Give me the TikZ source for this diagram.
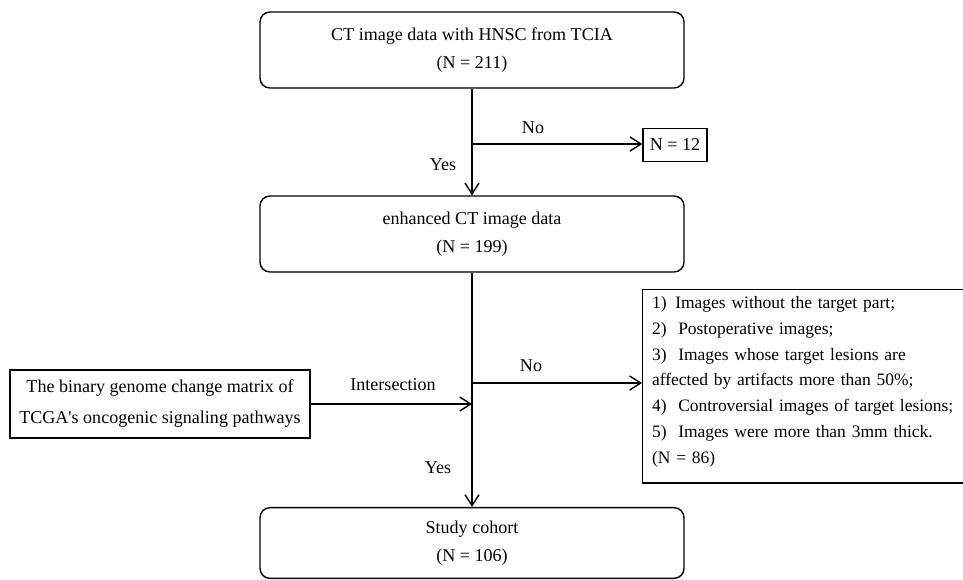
\documentclass[tikz,border=0pt]{standalone}
\usepackage{fontspec}
\setmainfont{Liberation Serif}
\usetikzlibrary{arrows.meta}

\begin{document}
\begin{tikzpicture}[
                    x=0.03cm, y=-0.03cm,
                    line width=1.2pt,
                    >={Straight Barb[length=3.3mm,width=4.2mm]},
                    every node/.style={
                        font=\fontsize{15.4}{24}\selectfont
                    },
                    stage/.style={
                        draw,
                        rounded corners=8.5pt,
                        minimum width=12.72cm,
                        minimum height=2.28cm,
                        align=center
                    },
                    plainbox/.style={
                        draw,
                        rectangle,
                        align=center
                    }
                ]
                    \useasboundingbox (0,0) rectangle (963,579);

                    \node[stage] (ct) at (472,50) {CT image data with HNSC from TCIA\\(N = 211)};
                    \node[stage] (enh) at (472,234) {enhanced CT image data\\(N = 199)};
                    \node[stage, minimum height=2.12cm] (cohort) at (472,543) {Study cohort\\(N = 106)};
                    \node[plainbox, minimum width=1.92cm, minimum height=0.99cm] (n12) at (675,145) {N = 12};
                    \node[plainbox, minimum width=9cm, minimum height=2.04cm,
                          font=\fontsize{15.4}{26.4}\selectfont] (matrix) at (160,404)
                        {The binary genome change matrix of\\TCGA\textquotesingle s oncogenic signaling pathways};
                    \node[draw, anchor=north west, align=left, text width=10cm,
                          inner xsep=8pt, inner ysep=5.5pt, text depth=143.5pt,
                          font=\fontsize{14.9}{22.1}\selectfont] (excl) at (642,289)
                        {1)\, Images without the target part;\\
                         2)~ Postoperative images;\\
                         3)~ Images whose target lesions are\\
                         affected by artifacts more than 50\%;\\
                         4)~ Controversial images of target lesions;\\
                         5)~ Images were more than 3mm thick.\\
                         (N = 86)};

                    % Branch points
                    \coordinate (split1) at (472,144);
                    \coordinate (split2) at (472,383);

                    % Edges
                    \draw[->] (ct) -- (enh);
                    \draw[->] (split1) -- (split1 -| n12.west);
                    \draw[->] (enh) -- (enh |- cohort.north);
                    \draw[->] (split2) -- (split2 -| excl.west);
                    \draw[->] (matrix) -- (matrix -| enh);

                    % Labels
                    \node (no1) at (533,128) {No};
                    \node (yes1) at (443,165) {Yes};
                    \node (no2) at (531,366) {No};
                    \node (join) at (393,385) {Intersection};
                    \node (yes2) at (438,468) {Yes};
                \end{tikzpicture}
\end{document}
